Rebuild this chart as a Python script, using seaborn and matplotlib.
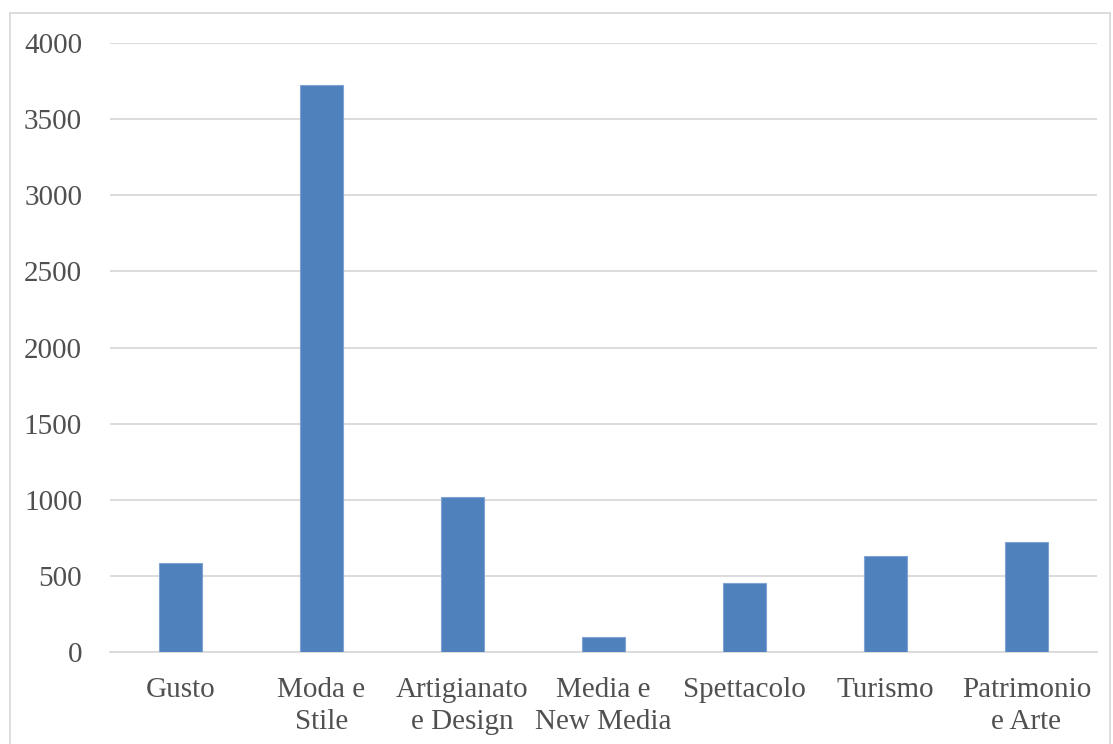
"""
Imprese per settore - bar chart
"""
import matplotlib
matplotlib.use("Agg")
import matplotlib.pyplot as plt
import matplotlib.patches as mpatches
import seaborn as sns
import pandas as pd

categories = ["Gusto", "Moda e\nStile", "Artigianato\ne Design", "Media e\nNew Media",
              "Spettacolo", "Turismo", "Patrimonio\ne Arte"]
values = [585, 3725, 1020, 100, 456, 630, 722]
yticks = [0, 500, 1000, 1500, 2000, 2500, 3000, 3500, 4000]

sns.set_theme(style="white")
plt.rcParams['font.family'] = ['Liberation Serif', 'DejaVu Serif']

df = pd.DataFrame({"cat": categories, "val": values})

fig = plt.figure(figsize=(11.13, 7.44), dpi=100)
ax = fig.add_axes([0.0988, 0.1237, 0.8868, 0.8183])

sns.barplot(data=df, x="cat", y="val", color="#4f81bd", saturation=1,
            width=0.31, edgecolor="#7fa3d3", linewidth=0.8, ax=ax, zorder=3)

ax.set_ylim(0, 4000)
ax.set_xlim(-0.5, len(categories) - 0.5)
ax.set_yticks(yticks)
ax.yaxis.grid(True, color="#d9d9d9", lw=1.3, zorder=0)
ax.set_axisbelow(True)
for s in ["top", "right", "left"]:
    ax.spines[s].set_visible(False)
ax.spines["bottom"].set_color("#d9d9d9")
ax.spines["bottom"].set_linewidth(1.3)
ax.tick_params(axis="both", length=0, labelsize=21, colors="#505050")
ax.tick_params(axis="y", pad=20)
ax.tick_params(axis="x", pad=18)
ax.set_xlabel("")
ax.set_ylabel("")
for lab in ax.get_xticklabels():
    lab.set_linespacing(1.3)

# chart-area border
fig.patches.append(mpatches.Rectangle((10 / 1113, -0.01), 1100 / 1113, (744 - 13) / 744 + 0.01,
                                      transform=fig.transFigure, fill=False,
                                      edgecolor="#d9d9d9", lw=1.3))

fig.savefig("out.png", dpi=100)
